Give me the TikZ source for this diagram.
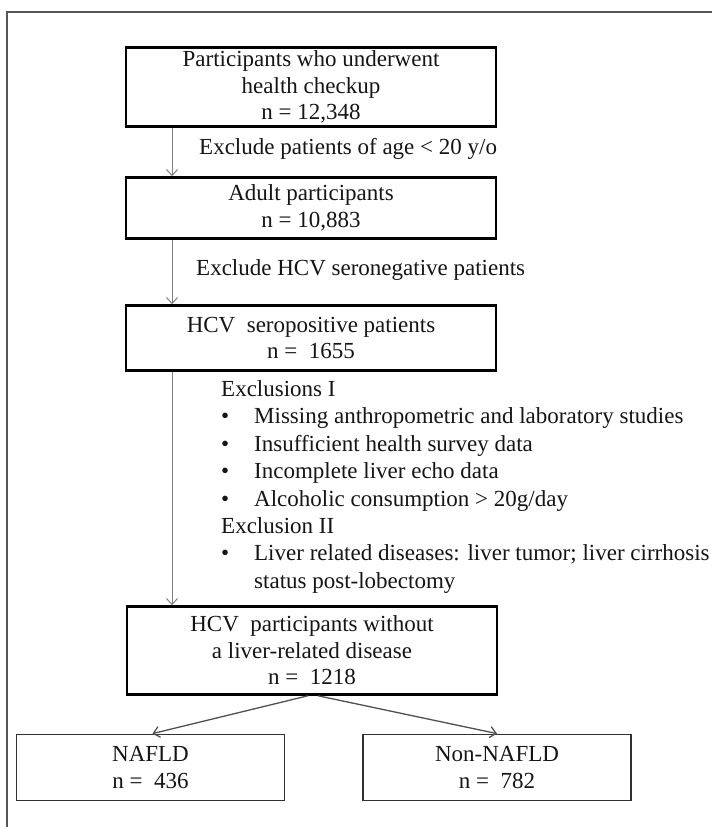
\documentclass[tikz,border=0pt]{standalone}
\usepackage{fontspec}
\setmainfont{Liberation Serif}
\usetikzlibrary{arrows.meta}
\definecolor{txt}{HTML}{151515}
\definecolor{arrgray}{HTML}{808080}
\definecolor{darkarr}{HTML}{505050}
\definecolor{framegray}{HTML}{555555}
\definecolor{smallbox}{HTML}{303030}
\begin{document}
\begin{tikzpicture}[x=1pt,y=-1pt,
  every node/.style={text=txt,font=\fontsize{23}{26.5}\selectfont},
  mainbox/.style={draw=black,line width=2.5pt,rectangle,minimum width=370pt,align=center,inner sep=0pt},
  subbox/.style={draw=smallbox,line width=1.8pt,rectangle,minimum width=268pt,minimum height=66pt,align=center,inner sep=0pt},
  arr/.style={draw=arrgray,line width=1pt,-{Straight Barb[length=6pt,width=11pt,line width=1pt]}},
  splitarr/.style={draw=darkarr,line width=1.3pt,-{Straight Barb[length=6pt,width=11pt,line width=1.3pt]}},
  lbl/.style={anchor=west,inner sep=0pt,text height=15pt,text depth=0pt},
]
\useasboundingbox (0,0) rectangle (712,827);
\fill[white] (0,0) rectangle (712,827);
% outer frame (cropped on right and bottom)
\draw[framegray,line width=1.2pt] (712,12) -- (7,12) -- (7,827);

\node[mainbox,minimum height=79pt] (b1) at (311,87)
  {Participants who underwent\\health checkup\\n = 12,348};
\node[mainbox,minimum height=61pt] (b2) at (311,208)
  {Adult participants\\n = 10,883};
\node[mainbox,minimum height=65pt] (b3) at (311,338)
  {HCV\ \ seropositive patients\\n =\ \ 1655};
\node[mainbox,minimum height=88pt] (b4) at (312,650.5)
  {HCV\ \ participants without\\a liver-related disease\\n =\ \ 1218};
\node[subbox] (n1) at (150.5,767.5) {NAFLD\\n =\ \ 436};
\node[subbox] (n2) at (497,767.5) {Non-NAFLD\\n =\ \ 782};

\coordinate (ax) at (172,0);
\draw[arr] (ax |- b1.south) -- (ax |- b2.north);
\draw[arr] (ax |- b2.south) -- (ax |- b3.north);
\draw[arr] (ax |- b3.south) -- (ax |- b4.north);
\draw[splitarr] ([xshift=-4pt]b4.south) -- ([xshift=2pt]n1.north);
\draw[splitarr] ([xshift=6pt]b4.south) -- (n2.north);

\node[lbl] (e1) at (199,147) {Exclude patients of age < 20 y/o};
\node[lbl] (e2) at (196,268) {Exclude HCV seronegative patients};

\node[lbl] (x1) at (221,389) {Exclusions I};
\node[lbl] (x2) at (221,416.4) {\makebox[33pt][l]{\textbullet}Missing anthropometric and laboratory studies};
\node[lbl] (x3) at (221,443.8) {\makebox[33pt][l]{\textbullet}Insufficient health survey data};
\node[lbl] (x4) at (221,471.2) {\makebox[33pt][l]{\textbullet}Incomplete liver echo data};
\node[lbl] (x5) at (221,498.6) {\makebox[33pt][l]{\textbullet}Alcoholic consumption > 20g/day};
\node[lbl] (x6) at (221,526) {Exclusion II};
\node[lbl] (x7) at (221,553.4) {\makebox[33pt][l]{\textbullet}Liver related diseases: liver tumor; liver cirrhosis};
\node[lbl] (x8) at (254,580.8) {status post-lobectomy};
\end{tikzpicture}
\end{document}
